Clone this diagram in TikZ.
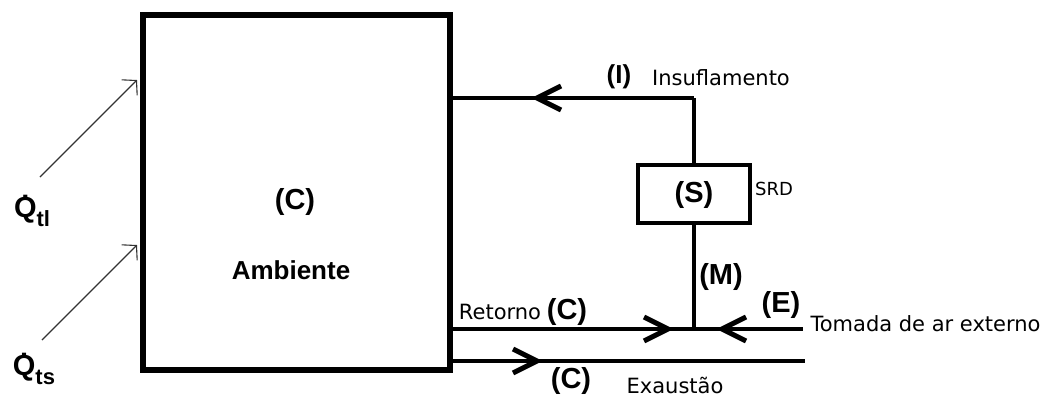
\documentclass[tikz,border=0pt]{standalone}
\usepackage{fontspec}
\setmainfont{Liberation Sans}
\newfontfamily\smallfont{DejaVu Sans}
\usetikzlibrary{arrows.meta}

\newcommand{\qdot}{\ooalign{Q\cr\hidewidth\raisebox{0.62em}{.}\hidewidth\cr}}
\newcommand{\qsub}[1]{\raisebox{-0.3em}{\fontsize{22}{23}\selectfont #1}}

\begin{document}
\begin{tikzpicture}[x=1pt,y=-1pt,
    pipe/.style={line width=4pt},
    chevron/.pic={\draw[line width=5pt,miter limit=4] (-24,-12) -- (0,0) -- (-24,12);},
    heat/.style={line width=1.1pt,black!80,-{Straight Barb[length=10pt,width=22pt]}},
    tag/.style={font=\fontsize{29}{30}\selectfont\bfseries},
    word/.style={font=\smallfont\fontsize{21}{22}\selectfont}]
  \useasboundingbox (0,0) rectangle (1054,396);
  % boxes
  \node[draw,line width=6pt,minimum width=307pt,minimum height=355pt] (amb) at (296.5,192.5) {};
  \node[draw,line width=4pt,minimum width=112pt,minimum height=58pt] (srd) at (694,194) {};
  \node[tag] (c) at (295,202) {(C)};
  \node[font=\fontsize{26}{27}\selectfont\bfseries] (ambtxt) at (291,270) {Ambiente};
  \node[tag] (s) at (694,195) {(S)};
  \node[word,font=\smallfont\fontsize{18}{19}\selectfont] (srdtxt) at (774,189) {SRD};
  % supply
  \coordinate (insR) at (694,98);
  \coordinate (insA) at (537,98);
  \draw[pipe] (insR) -- (amb.east |- insR);
  \pic[rotate=180] at (insA) {chevron};
  \draw[pipe] (insR) -- (srd.north);
  \node[tag,font=\fontsize{26}{27}\selectfont\bfseries] (i) at (619,77) {(I)};
  \node[word] (instxt) at (721,78) {Insuflamento};
  % mixing
  \coordinate (junc) at (694,329);
  \coordinate (retA) at (668,329);
  \coordinate (extR) at (803,329);
  \coordinate (extA) at (722,329);
  \draw[pipe] (srd.south) -- (junc);
  \draw[pipe] (amb.east |- junc) -- (extR);
  \pic at (retA) {chevron};
  \pic[rotate=180] at (extA) {chevron};
  \node[tag] (m) at (721,277) {(M)};
  \node[tag] (e) at (781,305) {(E)};
  \node[word,anchor=west] (exttxt) at (807,324) {Tomada de ar externo};
  \node[word] (rettxt) at (500,312) {Retorno};
  \node[tag] (cret) at (567,312) {(C)};
  % exhaust
  \coordinate (exA) at (537,361);
  \coordinate (exR) at (805,361);
  \draw[pipe] (amb.east |- exA) -- (exR);
  \pic at (exA) {chevron};
  \node[tag] (cex) at (571,381) {(C)};
  \node[word] (extxt) at (675,385) {Exaustão};
  % loads
  \node[font=\fontsize{29}{30}\selectfont\bfseries] (qtl) at (32,212) {\qdot\qsub{tl}};
  \node[font=\fontsize{29}{30}\selectfont\bfseries] (qts) at (34,370) {\qdot\qsub{ts}};
  \coordinate (tlS) at (40,177);
  \coordinate (tlA) at (137,80);
  \coordinate (tsS) at (42,340);
  \coordinate (tsA) at (137,245);
  \draw[heat] (tlS) -- (tlA);
  \draw[heat] (tsS) -- (tsA);
\end{tikzpicture}
\end{document}
